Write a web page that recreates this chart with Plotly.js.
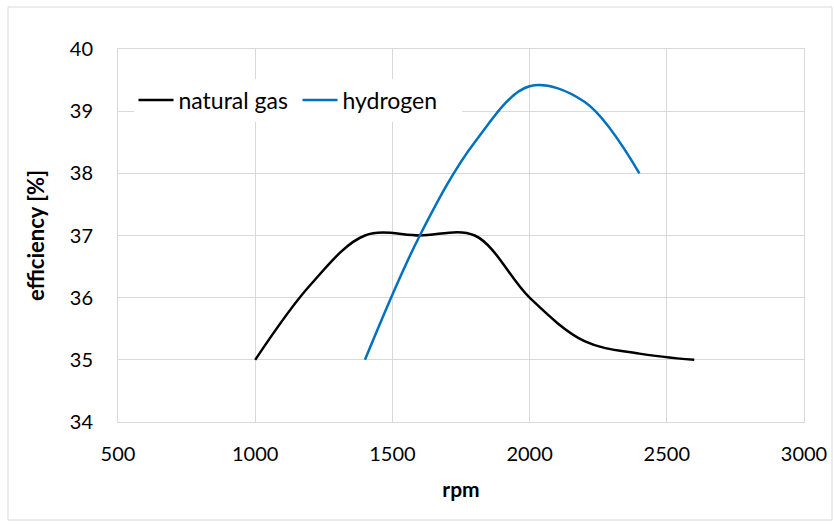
<!DOCTYPE html>
<html>
<head>
<meta charset="utf-8">
<script src="https://cdn.plot.ly/plotly-3.0.1.min.js"></script>
<style>
  html, body { margin: 0; padding: 0; background: #fff; }
  #chart { width: 834px; height: 525px; }
</style>
</head>
<body>
<div id="chart"></div>
<script>
const gasRpm = [1000, 1200, 1400, 1600, 1800, 2000, 2200, 2400, 2600];
const gasEff = [35.0, 36.2, 37.0, 37.0, 37.0, 36.0, 35.3, 35.1, 35.0];
const h2Rpm = [1400, 1600, 1800, 2000, 2200, 2400];
const h2Eff = [35.0, 37.0, 38.5, 39.4, 39.15, 38.0];
const seriesNames = ["natural gas", "hydrogen"];
const xTicks = [500, 1000, 1500, 2000, 2500, 3000];
const yTicks = [34, 35, 36, 37, 38, 39, 40];

const FONT = "Lato, 'Open Sans', sans-serif";

const traces = [
  { x: gasRpm, y: gasEff, name: seriesNames[0], mode: "lines",
    line: { color: "#000000", width: 2.5, shape: "spline", smoothing: 1 } },
  { x: h2Rpm, y: h2Eff, name: seriesNames[1], mode: "lines",
    line: { color: "#0070C0", width: 2.5, shape: "spline", smoothing: 1 } }
];

const layout = {
  width: 834, height: 525,
  margin: { l: 118, r: 30, t: 49, b: 103 },
  paper_bgcolor: "#ffffff", plot_bgcolor: "#ffffff",
  font: { family: FONT, size: 20, color: "#000000" },
  showlegend: true,
  legend: {
    orientation: "h", x: 0.0226, y: 0.863, xanchor: "left", yanchor: "middle",
    bgcolor: "#ffffff", font: { family: FONT, size: 23, color: "#000" },
    itemwidth: 35, entrywidth: 114, entrywidthmode: "pixels", tracegroupgap: 0
  },
  xaxis: {
    range: [500, 3000], tickvals: xTicks, ticktext: xTicks.map(String),
    showgrid: true, gridcolor: "#d9d9d9", gridwidth: 1,
    showline: true, linecolor: "#d9d9d9", linewidth: 1, mirror: true,
    zeroline: false, ticks: "", ticklabelstandoff: 14,
    tickfont: { family: FONT, size: 20 },
    title: { text: "<b>rpm</b>", font: { family: FONT, size: 21 }, standoff: 18 },
    automargin: false
  },
  yaxis: {
    range: [34, 40], tickvals: yTicks, ticktext: yTicks.map(String),
    showgrid: true, gridcolor: "#d9d9d9", gridwidth: 1,
    showline: true, linecolor: "#d9d9d9", linewidth: 1, mirror: true,
    zeroline: false, ticks: "", ticklabelstandoff: 20,
    tickfont: { family: FONT, size: 20 },
    title: { text: "<b>efficiency [%]</b>", font: { family: FONT, size: 22 }, standoff: 19 },
    automargin: false
  },
  shapes: [
    { type: "rect", xref: "paper", yref: "paper",
      x0: -110/686, x1: 1 + 28/686, y0: -98/373, y1: 1 + 42/373,
      line: { color: "#d9d9d9", width: 1 }, fillcolor: "rgba(0,0,0,0)", layer: "below" }
  ]
};

Plotly.newPlot("chart", traces, layout, { staticPlot: true, displayModeBar: false });
</script>
</body>
</html>
